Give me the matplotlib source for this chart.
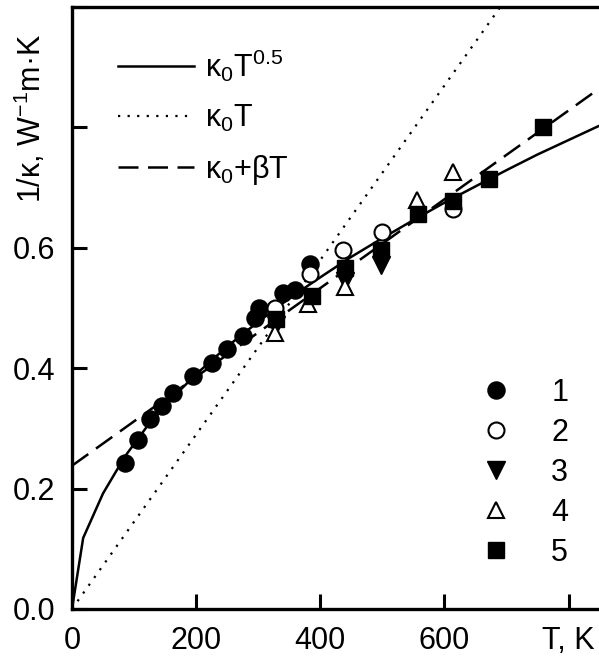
import matplotlib
matplotlib.use("Agg")
import matplotlib.pyplot as plt
from matplotlib.lines import Line2D

plt.rcParams['font.family'] = ['Liberation Sans', 'DejaVu Sans']
plt.rcParams['mathtext.fontset'] = 'custom'
plt.rcParams['mathtext.rm'] = 'Liberation Sans'
plt.rcParams['mathtext.it'] = 'Liberation Sans:italic'
plt.rcParams['mathtext.bf'] = 'Liberation Sans:bold'

# ---- data ----
s1_T = [85, 106, 126, 145, 163, 195, 225, 250, 276, 295, 302, 340, 360, 384]
s1_y = [0.243, 0.280, 0.316, 0.338, 0.358, 0.387, 0.409, 0.432, 0.453, 0.484, 0.500, 0.525, 0.530, 0.573]

s2_T = [327, 384, 437, 500, 613]
s2_y = [0.500, 0.556, 0.596, 0.626, 0.665]

s3_T = [329, 440, 497]
s3_y = [0.472, 0.545, 0.572]

s4_T = [327, 381, 440, 556, 613]
s4_y = [0.459, 0.507, 0.535, 0.679, 0.726]

s5_T = [329, 387, 440, 497, 557, 613, 671, 758]
s5_y = [0.482, 0.520, 0.567, 0.597, 0.656, 0.678, 0.715, 0.800]

# fitted curves
sqrt_T = [0, 18, 50, 85, 120, 160, 200, 250, 300, 350, 400, 450, 500, 550, 600, 650, 700, 750, 800, 850]
sqrt_y = [0, 0.118, 0.192, 0.253, 0.302, 0.349, 0.390, 0.436, 0.477, 0.516, 0.551, 0.585, 0.616,
          0.646, 0.675, 0.702, 0.729, 0.755, 0.779, 0.803]
lin_T = [0, 690]
lin_y = [0.0, 1.0]
aff_T = [0, 850]
aff_y = [0.238, 0.865]

curve_labels = [r'κ$_\mathregular{0}$T$^\mathregular{0.5}$', r'κ$_\mathregular{0}$T', r'κ$_\mathregular{0}$+βT']
series_labels = ['1', '2', '3', '4', '5']
xticks = [0, 200, 400, 600, 800]
xticklabels = ['0', '200', '400', '600', 'T, K']
yticks = [0.0, 0.2, 0.4, 0.6, 0.8, 1.0]
yticklabels = ['0.0', '0.2', '0.4', '0.6', '', '']

W, H = 599, 657
fig = plt.figure(figsize=(W / 100, H / 100), dpi=100)
ax = fig.add_axes([72 / W, (H - 609) / H, 1 - 72 / W, (609 - 7) / H])

lw = 1.8
l1, = ax.plot(sqrt_T, sqrt_y, color='black', lw=lw, ls='-', zorder=2)
l2, = ax.plot(lin_T, lin_y, color='black', lw=1.6, ls=(0, (1, 3.3)), zorder=2)
l3, = ax.plot(aff_T, aff_y, color='black', lw=lw, ls=(0, (8, 3.8)), zorder=2)

mew = 1.5
m1, = ax.plot(s1_T, s1_y, 'o', ms=12.3, mfc='black', mec='black', ls='none', zorder=3)
m2, = ax.plot(s2_T, s2_y, 'o', ms=11.5, mfc='white', mec='black', mew=mew, ls='none', zorder=3)
m3, = ax.plot(s3_T, s3_y, 'v', ms=12.5, mfc='black', mec='black', ls='none', zorder=3)
m4, = ax.plot(s4_T, s4_y, '^', ms=12, mfc='white', mec='black', mew=mew, ls='none', zorder=3)
m5, = ax.plot(s5_T, s5_y, 's', ms=11, mfc='black', mec='black', ls='none', zorder=3)

ax.set_xlim(0, 849)
ax.set_ylim(0, 1.0)
ax.set_xticks(xticks)
ax.set_xticklabels(xticklabels)
ax.set_yticks(yticks)
ax.set_yticklabels(yticklabels)
ax.tick_params(direction='in', length=11, width=2.2, labelsize=22, pad=12)
for side in ['left', 'bottom', 'top']:
    ax.spines[side].set_linewidth(2.4)
ax.spines['right'].set_visible(False)

ax.set_ylabel(r'1/κ, W$^\mathregular{-1}$m·K', fontsize=22)
ax.yaxis.set_label_coords(-0.045, 0.815)

leg1 = ax.legend([l1, l2, l3], curve_labels, loc='upper left', bbox_to_anchor=(0.087, 0.933),
                 frameon=False, fontsize=22, handlelength=2.5, handletextpad=0.35,
                 labelspacing=0.62, borderpad=0, borderaxespad=0)
ax.add_artist(leg1)

leg2 = ax.legend([m1, m2, m3, m4, m5], series_labels, loc='lower left', bbox_to_anchor=(0.776, 0.068),
                 frameon=False, fontsize=22, handlelength=1.0, handletextpad=1.3,
                 labelspacing=0.33, borderpad=0, borderaxespad=0, numpoints=1, markerscale=1.0)

fig.savefig('out.png', dpi=100)
